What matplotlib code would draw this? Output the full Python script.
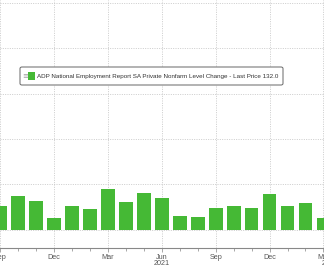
import matplotlib
matplotlib.use("Agg")
import matplotlib.pyplot as plt
from matplotlib.patches import FancyBboxPatch, Rectangle
import numpy as np

months = ["Sep 2020", "Oct 2020", "Nov 2020", "Dec 2020", "Jan 2021", "Feb 2021",
          "Mar 2021", "Apr 2021", "May 2021", "Jun 2021", "Jul 2021", "Aug 2021",
          "Sep 2021", "Oct 2021", "Nov 2021", "Dec 2021", "Jan 2022", "Feb 2022",
          "Mar 2022"]
values = [53.5, 74, 63, 25, 53.5, 46, 90, 62, 82, 70, 31.5, 28, 48.5, 53.5, 49,
          78.5, 52, 60, 25]
tick_idx = [0, 3, 6, 9, 12, 15, 18]
tick_labels = ["Sep", "Dec", "Mar", "Jun", "Sep", "Dec", "Mar"]
year_labels = ["2021", "2022"]
year_pos = [9, 18.35]
legend_text = "ADP National Employment Report SA Private Nonfarm Level Change - Last Price 132.0"

W, H = 324, 267
fig = plt.figure(figsize=(W / 100, H / 100), dpi=100)
ax = fig.add_axes([0, (H - 248) / H, 1, 248 / H])

green = "#45b935"
x = np.arange(len(values))
ax.bar(x, values, width=0.77, color=green, edgecolor="none", zorder=3)

ax.set_xlim(0.171, 18.03)
ax.set_ylim(-40, 506)
ax.set_yticks([0, 100, 200, 300, 400, 500])
ax.set_xticks(tick_idx)
ax.set_xticklabels(tick_labels, fontsize=5.2, color="#555555", family="Liberation Sans")
ax.set_xticks(x, minor=True)
ax.tick_params(axis="x", which="major", length=3, width=0.6, color="#999999", pad=1.5)
ax.tick_params(axis="x", which="minor", length=2, width=0.6, color="#999999")
ax.tick_params(axis="y", left=False, labelleft=False)
ax.grid(True, which="major", color="#c4c4c4", linestyle=(0, (1.2, 1.6)), linewidth=0.6, zorder=0)
for s in ["top", "left", "right"]:
    ax.spines[s].set_visible(False)
ax.spines["bottom"].set_color("#888888")
ax.spines["bottom"].set_linewidth(0.8)

for lbl, pos in zip(year_labels, year_pos):
    ax.text(pos, -0.047, lbl, transform=ax.get_xaxis_transform(), ha="center", va="top",
            fontsize=5.2, color="#555555", family="Liberation Sans")

# legend box (figure pixel coordinates)
def fx(px):
    return px / W

def fy(py):
    return (H - py) / H

box = FancyBboxPatch((fx(20), fy(85)), fx(283) - fx(20), fy(67) - fy(85),
                     boxstyle="round,pad=0,rounding_size=0.006", transform=fig.transFigure,
                     facecolor="white", edgecolor="#666666", linewidth=0.7, zorder=10)
fig.patches.append(box)
fig.patches.append(Rectangle((fx(28), fy(80)), fx(35) - fx(28), fy(72) - fy(80),
                             transform=fig.transFigure, facecolor=green, edgecolor="none", zorder=11))
fig.text(fx(22), fy(76), "≡", fontsize=5, color="#999999", va="center", ha="left", zorder=11)
t = fig.text(fx(37), fy(76.5), legend_text, fontsize=5.5, color="#333333", va="center",
             ha="left", family="Liberation Sans", zorder=11)
fig.canvas.draw()
w = t.get_window_extent().width
t.set_fontsize(5.5 * 243 / w)

fig.savefig("out.png", dpi=100)
